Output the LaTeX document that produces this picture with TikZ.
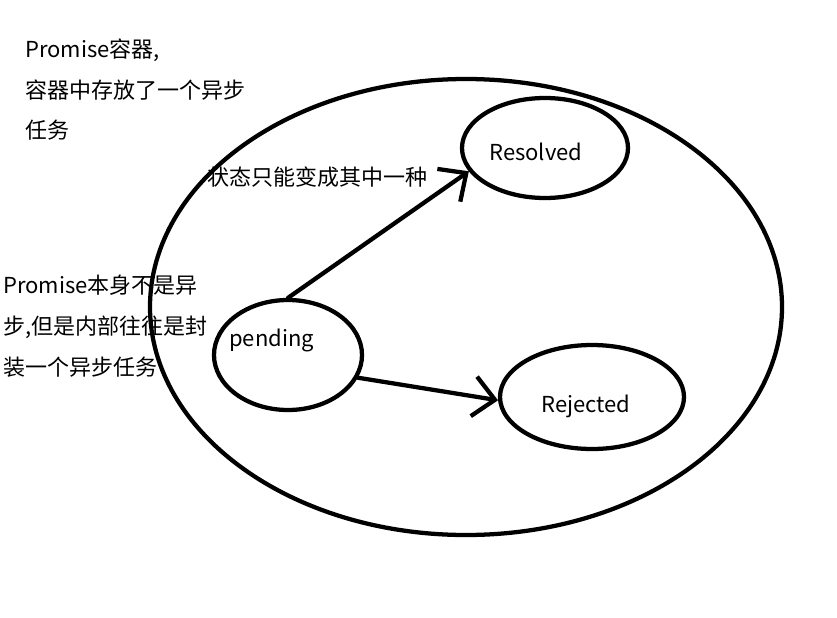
\documentclass[tikz,border=0pt]{standalone}
\usepackage{fontspec}
\setmainfont{Noto Sans CJK SC}
\usetikzlibrary{shapes.geometric,arrows.meta}

\begin{document}
\begin{tikzpicture}[x=0.75pt, y=-0.75pt, line join=round, line cap=round,
    font=\fontsize{16.5}{20}\selectfont,
    state/.style={draw, ellipse, line width=3.2pt, inner sep=0pt},
    txt/.style={anchor=west, inner sep=0pt},
    arr/.style={line width=3.2pt, -{Straight Barb[length=16pt,width=30pt,line width=3.2pt]}}]
  \useasboundingbox (0,0) rectangle (837,617);
  % container and states
  \node[state, minimum width=474pt, minimum height=342pt] (box) at (466,307) {};
  \foreach \x\y\w\h\t in {545/148/124.5/75/res, 288/355/111/82.5/pend, 592/397/138/78/rej}
    \node[state, minimum width=\w pt, minimum height=\h pt] (\t) at (\x,\y) {};
  % state names
  \node[txt] (resname) at (489,152) {Resolved};
  \node[txt] (pendname) at (229,340) {pending};
  \node[txt] (rejname) at (541,406) {Rejected};
  % notes
  \node[txt] (box1) at (25,50) {Promise容器,};
  \node[txt] (box2) at (25,90) {容器中存放了一个异步};
  \node[txt] (box3) at (25,130) {任务};
  \node[txt] (once) at (207,177) {状态只能变成其中一种};
  \node[txt] (note1) at (3,285) {Promise本身不是异};
  \node[txt] (note2) at (3,327) {步,但是内部往往是封};
  \node[txt] (note3) at (3,367) {装一个异步任务};
  % transitions
  \draw[arr] (pend.north) -- (res.197);
  \draw[arr] (pend.-18) -- (rej.182);
\end{tikzpicture}
\end{document}
